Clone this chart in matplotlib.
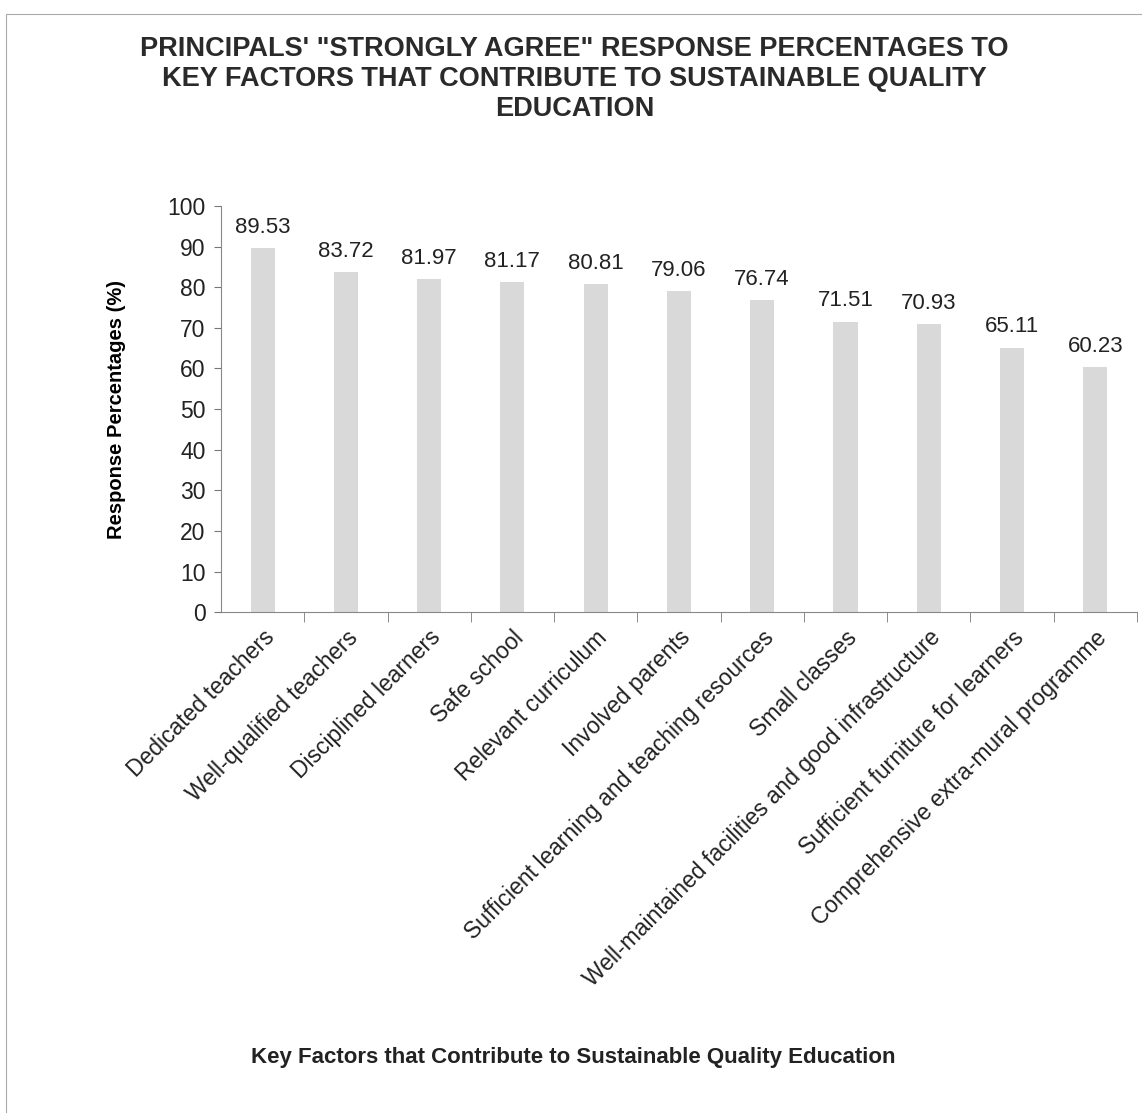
import matplotlib.pyplot as plt
import numpy as np
from matplotlib.patches import Rectangle

plt.rcParams['font.family'] = ['Liberation Sans', 'DejaVu Sans']

factors = ['Dedicated teachers', 'Well-qualified teachers', 'Disciplined learners',
           'Safe school', 'Relevant curriculum', 'Involved parents',
           'Sufficient learning and teaching resources', 'Small classes',
           'Well-maintained facilities and good infrastructure',
           'Sufficient furniture for learners', 'Comprehensive extra-mural programme']
percentages = [89.53, 83.72, 81.97, 81.17, 80.81, 79.06, 76.74, 71.51, 70.93, 65.11, 60.23]

fig = plt.figure(figsize=(11.42, 11.13), dpi=100)
ax = fig.add_axes([0.1935, 0.45, 0.802, 0.365])

x = np.arange(len(factors))
ax.bar(x, percentages, width=0.29, color='#d9d9d9', edgecolor='none')
for xi, v in zip(x, percentages):
    ax.text(xi, v + 2.5, f'{v:.2f}', ha='center', va='bottom', fontsize=16, color='#222222')

ax.set_xlim(-0.5, len(factors) - 0.5)
ax.set_ylim(0, 100)
ax.set_yticks(range(0, 101, 10))
ax.tick_params(axis='y', labelsize=16.5, length=5, color='#777777', labelcolor='#222222', pad=6)
ax.set_xticks(x)
ax.set_xticklabels(factors, rotation=45, ha='right', rotation_mode='anchor', fontsize=16.5, color='#222222')
ax.tick_params(axis='x', length=0, pad=10)
ax.set_xticks(np.arange(0.5, len(factors), 1), minor=True)
ax.tick_params(axis='x', which='minor', length=7, color='#777777')

for s in ['top', 'right']:
    ax.spines[s].set_visible(False)
ax.spines['left'].set_color('#888888')
ax.spines['bottom'].set_color('#888888')

ax.set_ylabel('Response Percentages (%)', fontsize=14.5, fontweight='bold', labelpad=30)
fig.text(0.502, 0.05, 'Key Factors that Contribute to Sustainable Quality Education',
         ha='center', va='center', fontsize=16, fontweight='bold', color='#222222')
fig.text(0.503, 0.929, 'PRINCIPALS\' "STRONGLY AGREE" RESPONSE PERCENTAGES TO\n'
         'KEY FACTORS THAT CONTRIBUTE TO SUSTAINABLE QUALITY\nEDUCATION',
         ha='center', va='center', fontsize=19.5, fontweight='bold', color='#2a2a2a',
         linespacing=1.18)

fig.patches.append(Rectangle((0.005, -0.01), 1.0, 0.997, transform=fig.transFigure,
                             fill=False, edgecolor='#aaaaaa', linewidth=0.8))

plt.savefig('out.png')
